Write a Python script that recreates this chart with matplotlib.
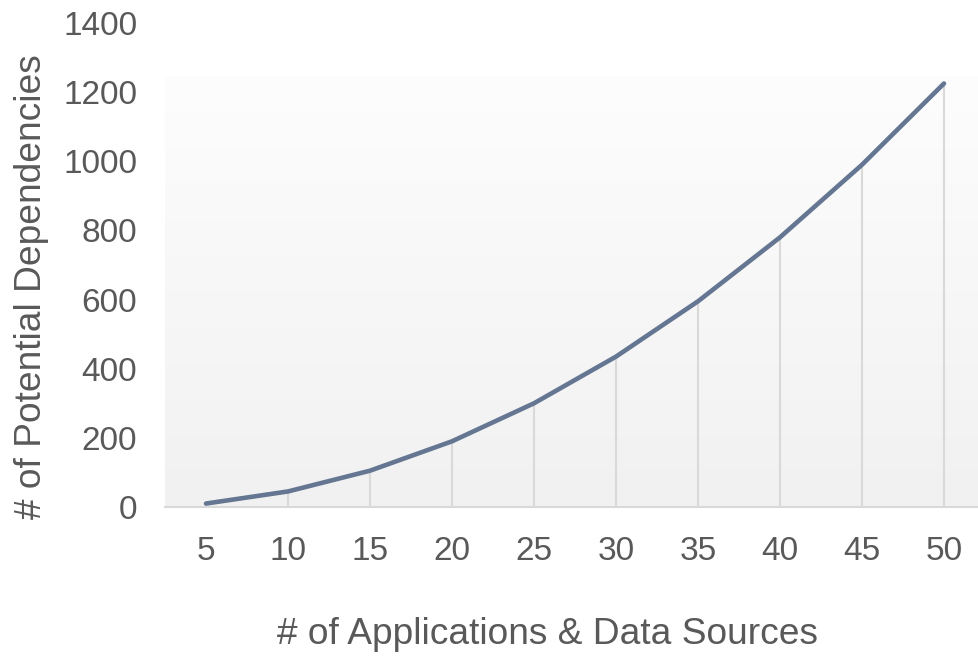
import matplotlib.pyplot as plt
import numpy as np

plt.rcParams['font.family'] = ['Liberation Sans', 'DejaVu Sans']

apps = [5, 10, 15, 20, 25, 30, 35, 40, 45, 50]
deps = [10, 45, 105, 190, 300, 435, 595, 780, 990, 1225]

txt = '#595959'
fig = plt.figure(figsize=(9.79, 6.56), dpi=100)
ax = fig.add_axes([165 / 979, 149 / 656, 820 / 979, 484 / 656])

pos = np.arange(len(apps))

# gradient background of the plot area
grad = np.linspace(0, 1, 256).reshape(-1, 1)
ax.imshow(grad, extent=[-0.5, 9.5, 0, 1245], aspect='auto', origin='upper',
          cmap=plt.matplotlib.colors.LinearSegmentedColormap.from_list('g', ['#fdfdfd', '#f1f1f1']),
          zorder=0)

ax.vlines(pos, 0, deps, color='#d9d9d9', lw=1.5, zorder=1)
ax.plot(pos, deps, color='#647692', lw=3.3, solid_capstyle='round', zorder=3)

ax.set_xlim(-0.5, 9.5)
ax.set_ylim(0, 1400)
ax.set_xticks(pos)
ax.set_xticklabels([str(a) for a in apps])
ax.set_yticks(range(0, 1401, 200))
ax.tick_params(length=0, labelsize=24, colors=txt)
ax.tick_params(axis='y', pad=20)
ax.tick_params(axis='x', pad=21)

for s in ['top', 'right', 'left']:
    ax.spines[s].set_visible(False)
ax.spines['bottom'].set_color('#d9d9d9')
ax.spines['bottom'].set_linewidth(1.5)
ax.set_facecolor('white')

fig.text(548 / 979, 1 - 635 / 656, '# of Applications & Data Sources', ha='center', va='center',
         fontsize=26.7, color=txt)
fig.text(32 / 979, 1 - 287 / 656, '# of Potential Dependencies', ha='center', va='center',
         rotation=90, fontsize=26.7, color=txt)

fig.savefig('out.png', dpi=100)
